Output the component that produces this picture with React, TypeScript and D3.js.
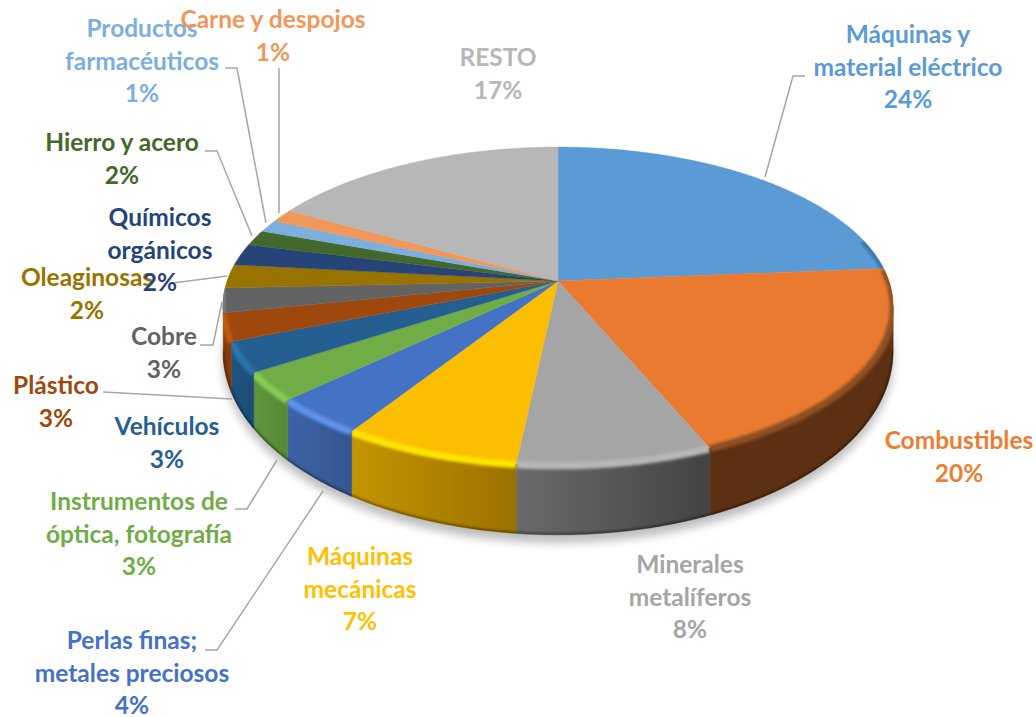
import React from "react";
import * as d3 from "d3";

// ---- data ----
const categories = [
  "Máquinas y material eléctrico", "Combustibles", "Minerales metalíferos", "Máquinas mecánicas",
  "Perlas finas; metales preciosos", "Instrumentos de óptica, fotografía", "Vehículos", "Plástico",
  "Cobre", "Oleaginosas", "Químicos orgánicos", "Hierro y acero", "Productos farmacéuticos",
  "Carne y despojos", "RESTO",
];
const shares = [23.7, 19.9, 8.1, 7.4, 3.9, 2.9, 3.1, 2.8, 2.5, 2.4, 2.2, 1.6, 1.25, 1.35, 16.9];
const percentLabels = ["24%", "20%", "8%", "7%", "4%", "3%", "3%", "3%", "3%", "2%", "2%", "2%", "1%", "1%", "17%"];
const labelLines = [
  ["Máquinas y", "material eléctrico"], ["Combustibles"], ["Minerales", "metalíferos"], ["Máquinas", "mecánicas"],
  ["Perlas finas;", "metales preciosos"], ["Instrumentos de", "óptica, fotografía"], ["Vehículos"], ["Plástico"],
  ["Cobre"], ["Oleaginosas"], ["Químicos", "orgánicos"], ["Hierro y acero"], ["Productos", "farmacéuticos"],
  ["Carne y despojos"], ["RESTO"],
];

// ---- styles and layout ----
const topColors = ["#5B9BD5", "#E97A30", "#A5A5A5", "#FBBE00", "#4472C4", "#70AD47", "#255E91", "#9E480E", "#636363", "#997300", "#264478", "#43682B", "#7CAFDD", "#F1975A", "#B7B7B7"];
const textColors = ["#5B9BD5", "#ED7D31", "#A5A5A5", "#FFC000", "#4472C4", "#70AD47", "#255E91", "#9E480E", "#636363", "#997300", "#264478", "#43682B", "#7CAFDD", "#F1975A", "#B7B7B7"];
const wallColors: ([string, string] | null)[] = [
  null, ["#5E3013", "#5E3013"], ["#6A6A6A", "#434343"], ["#C49400", "#9A7200"], ["#3D64A8", "#345590"],
  ["#5F963C", "#568A36"], ["#1F5380", "#1D4E78"], ["#853C0C", "#853C0C"], null, null, null, null, null, null, null,
];
const bevelColors: (string | null)[] = [
  "#3E78AC", "#8F5020", "#B8B8B8", "#FFE600", "#5F92EC", "#86CA58", "#2A74AC", "#C05C10", "#7A7A7A", null, null, null, null, null, null,
];
const labelX = [908, 959, 690, 360, 132, 139, 167, 56, 164, 87, 160, 122, 142, 273, 498];
const labelY = [43, 449, 573, 565, 649, 510, 435, 394, 345, 286, 226, 151, 37, 28, 66];
const drawOrder = [0, 1, 2, 3, 4, 5, 6, 7, 8, 9, 10, 11, 12, 13, 14];
const leaders: [number, number][][] = [
  [[805, 76], [793, 76], [765, 177]],
  [[279, 68], [279, 213]],
  [[225, 68], [237, 68], [266, 223]],
  [[205, 151], [217, 151], [252, 236]],
  [[173, 283], [227, 276]],
  [[200, 345], [213, 345], [222, 302]],
  [[103, 392], [232, 399]],
  [[235, 509], [247, 509], [277, 460]],
  [[205, 650], [217, 650], [323, 491]],
];

// ---- tilted disc projection ----
const cx = 558, cy = 281, a = 331, b = 155, k = 0.157;
const rimPoint = (t: number): [number, number] => {
  const s = 1 / (1 + k * Math.cos(t));
  return [cx + a * Math.sin(t) * s, cy - b * Math.cos(t) * s];
};
const depth = (t: number) => 40 + 30 * Math.max(-Math.cos(t), 0);
const basePoint = (t: number): [number, number] => {
  const [x, y] = rimPoint(t);
  return [x, y + depth(t)];
};
const sample = (t0: number, t1: number) => {
  const n = Math.max(2, Math.ceil(Math.abs(t1 - t0) / 0.01));
  return d3.range(n + 1).map((i) => t0 + ((t1 - t0) * i) / n);
};
const line = d3.line<[number, number]>().x((d) => d[0]).y((d) => d[1]);
const wallFrom = (99 * Math.PI) / 180;
const wallTo = (261 * Math.PI) / 180;
const bevelFrom = (74 * Math.PI) / 180;

export default function App() {
  const arcs = d3.pie<number>().sort(null).value((d) => d).startAngle(0).endAngle(2 * Math.PI)(shares);
  const topPaths = arcs.map((s) => line([[cx, cy], ...sample(s.startAngle, s.endAngle).map(rimPoint)])! + "Z");
  const walls = arcs.map((s) => {
    const t0 = Math.max(s.startAngle, wallFrom);
    const t1 = Math.min(s.endAngle, wallTo);
    if (t1 <= t0) return null;
    const ts = sample(t0, t1);
    return { ts, path: line([...ts.map(rimPoint), ...ts.slice().reverse().map(basePoint)])! + "Z" };
  });
  const xs = d3.scaleLinear().domain([0, 1]);
  const shadowTs = sample(wallFrom - 0.1, wallTo + 0.1);
  const shadowPath = line([...shadowTs.map(rimPoint), ...shadowTs.slice().reverse().map(basePoint)])! + "Z";
  const baseRim = line(sample(wallFrom, wallTo).map(basePoint))!;

  return (
    <svg width={1036} height={717} viewBox="0 0 1036 717" style={{ position: "absolute", left: 0, top: 0, background: "#fff" }}>
      <defs>
        <filter id="shadowBlur" x="-10%" y="-10%" width="120%" height="130%"><feGaussianBlur stdDeviation="5" /></filter>
        <filter id="bevelBlur" x="-10%" y="-30%" width="120%" height="160%"><feGaussianBlur stdDeviation="1.8" /></filter>
        <filter id="edgeBlur" x="-10%" y="-30%" width="120%" height="160%"><feGaussianBlur stdDeviation="1.2" /></filter>
        {walls.map((w, i) => {
          const c = wallColors[i];
          if (!w || !c) return null;
          const ext = d3.extent(w.ts.map((t) => rimPoint(t)[0])) as [number, number];
          xs.range(ext);
          return (
            <linearGradient key={i} id={`wall${i}`} gradientUnits="userSpaceOnUse" x1={xs(0)} x2={xs(1)} y1={0} y2={0}>
              <stop offset="0" stopColor={c[0]} />
              <stop offset="1" stopColor={c[1]} />
            </linearGradient>
          );
        })}
        {arcs.map((_, i) => (
          <clipPath key={i} id={`clip${i}`}>
            <path d={topPaths[i]} />
            {walls[i] && <path d={walls[i]!.path} />}
          </clipPath>
        ))}
        <clipPath id="wallClip"><path d={shadowPath} /></clipPath>
      </defs>

      <path d={shadowPath} transform="translate(0,8)" fill="#000" opacity={0.26} filter="url(#shadowBlur)" />

      {walls.map((w, i) => w && wallColors[i] && (
        <path key={i} d={w.path} fill={`url(#wall${i})`} stroke={`url(#wall${i})`} strokeWidth={0.5} />
      ))}
      <g clipPath="url(#wallClip)">
        <path d={baseRim} fill="none" stroke="#000" strokeOpacity={0.35} strokeWidth={4} filter="url(#edgeBlur)" />
      </g>

      {arcs.map((_, i) => (
        <path key={i} d={topPaths[i]} fill={topColors[i]} stroke={topColors[i]} strokeWidth={0.4} />
      ))}

      {arcs.map((s, i) => bevelColors[i] && (
        <g key={i} clipPath={`url(#clip${i})`}>
          <path
            d={line(sample(Math.max(s.startAngle, bevelFrom), s.endAngle).map(rimPoint))!}
            fill="none"
            stroke={bevelColors[i]!}
            strokeWidth={7}
            transform="translate(0,1)"
            filter="url(#bevelBlur)"
          />
        </g>
      ))}

      {leaders.map((pts, i) => (
        <path key={i} d={line(pts)!} fill="none" stroke="#A6A6A6" strokeWidth={1.5} />
      ))}

      <g fontFamily="Lato, Carlito, sans-serif" fontWeight={700} fontSize={24.5} textAnchor="middle">
        {drawOrder.map((i) => (
          <text key={categories[i]} fill={textColors[i]}>
            {[...labelLines[i], percentLabels[i]].map((t, j) => (
              <tspan key={j} x={labelX[i]} y={labelY[i] + j * 32.5}>{t}</tspan>
            ))}
          </text>
        ))}
      </g>
    </svg>
  );
}
